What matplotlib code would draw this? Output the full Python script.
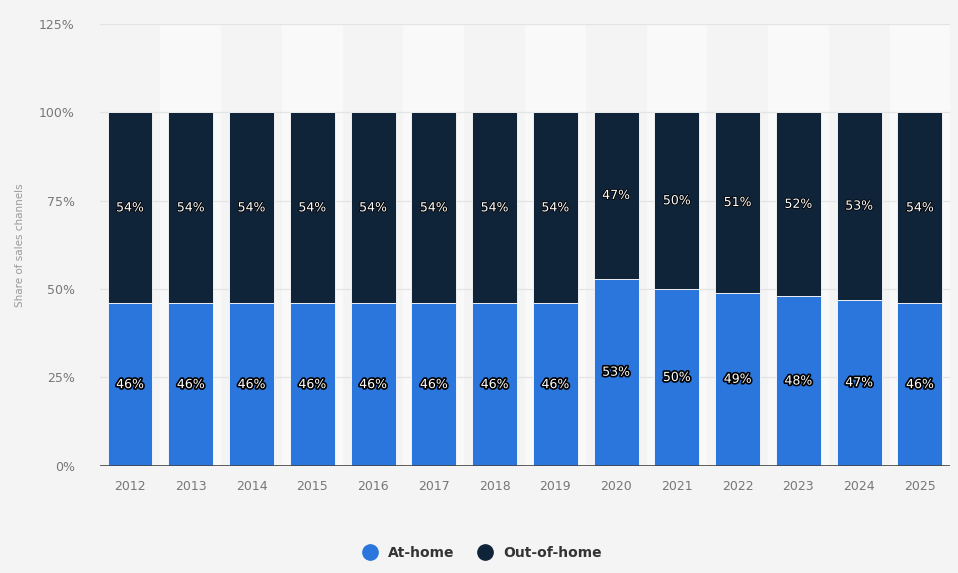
import numpy as np
import matplotlib.pyplot as plt
import matplotlib.patheffects as pe

# data
years = ["2012", "2013", "2014", "2015", "2016", "2017", "2018",
         "2019", "2020", "2021", "2022", "2023", "2024", "2025"]
at_home = [46, 46, 46, 46, 46, 46, 46, 46, 53, 50, 49, 48, 47, 46]
out_of_home = [54, 54, 54, 54, 54, 54, 54, 54, 47, 50, 51, 52, 53, 54]

blue = "#2a76dd"
navy = "#0f2339"
bg = "#f4f4f4"

fig = plt.figure(figsize=(9.58, 5.73), dpi=100, facecolor=bg)
ax = fig.add_axes([0.104, 0.187, 0.888, 0.771])
ax.set_facecolor(bg)

x = np.arange(len(years))

# faint alternating column bands
for i in x:
    ax.axvspan(i - 0.5, i + 0.5, color="#f9f9f9" if i % 2 else "#f4f4f4",
               zorder=0, lw=0)

for yv in [25, 50, 75, 100, 125]:
    ax.axhline(yv, color="#e4e4e4", lw=0.9, zorder=1)

ax.bar(x, at_home, width=0.74, color=blue, edgecolor="white",
       linewidth=0.6, zorder=2, label="At-home")
ax.bar(x, out_of_home, width=0.74, bottom=at_home, color=navy,
       edgecolor="white", linewidth=0.6, zorder=2, label="Out-of-home")

for i in x:
    ax.text(i, at_home[i] / 2, f"{at_home[i]}%", ha="center", va="center",
            color="white", fontsize=9,
            path_effects=[pe.withStroke(linewidth=2.4, foreground="black")],
            zorder=3)
    ax.text(i, at_home[i] + out_of_home[i] / 2, f"{out_of_home[i]}%",
            ha="center", va="center", color="white", fontsize=9,
            path_effects=[pe.withStroke(linewidth=1.2, foreground="black")],
            zorder=3)

ax.axhline(0, color="#444444", lw=1.2, zorder=3)

ax.set_xlim(-0.5, len(years) - 0.5)
ax.set_ylim(0, 125)
ax.set_yticks([0, 25, 50, 75, 100, 125])
ax.set_yticklabels(["0%", "25%", "50%", "75%", "100%", "125%"])
ax.set_xticks(x)
ax.set_xticklabels(years)
ax.tick_params(axis="both", length=0, colors="#777777", labelsize=9)
ax.tick_params(axis="x", pad=10)
ax.tick_params(axis="y", pad=18)
for s in ax.spines.values():
    s.set_visible(False)

ax.set_ylabel("Share of sales channels", color="#999999", fontsize=7.5,
              labelpad=10)

fig.legend(handles=[
    plt.Line2D([], [], marker="o", ls="", color=blue, markersize=11),
    plt.Line2D([], [], marker="o", ls="", color=navy, markersize=11)],
    labels=["At-home", "Out-of-home"], loc="center",
    bbox_to_anchor=(0.5, 0.035), ncol=2, frameon=False,
    prop={"weight": "bold", "size": 10}, labelcolor="#333333",
    handletextpad=0.3, columnspacing=1.2)

plt.savefig("out.png", dpi=100, facecolor=bg)
plt.close()
